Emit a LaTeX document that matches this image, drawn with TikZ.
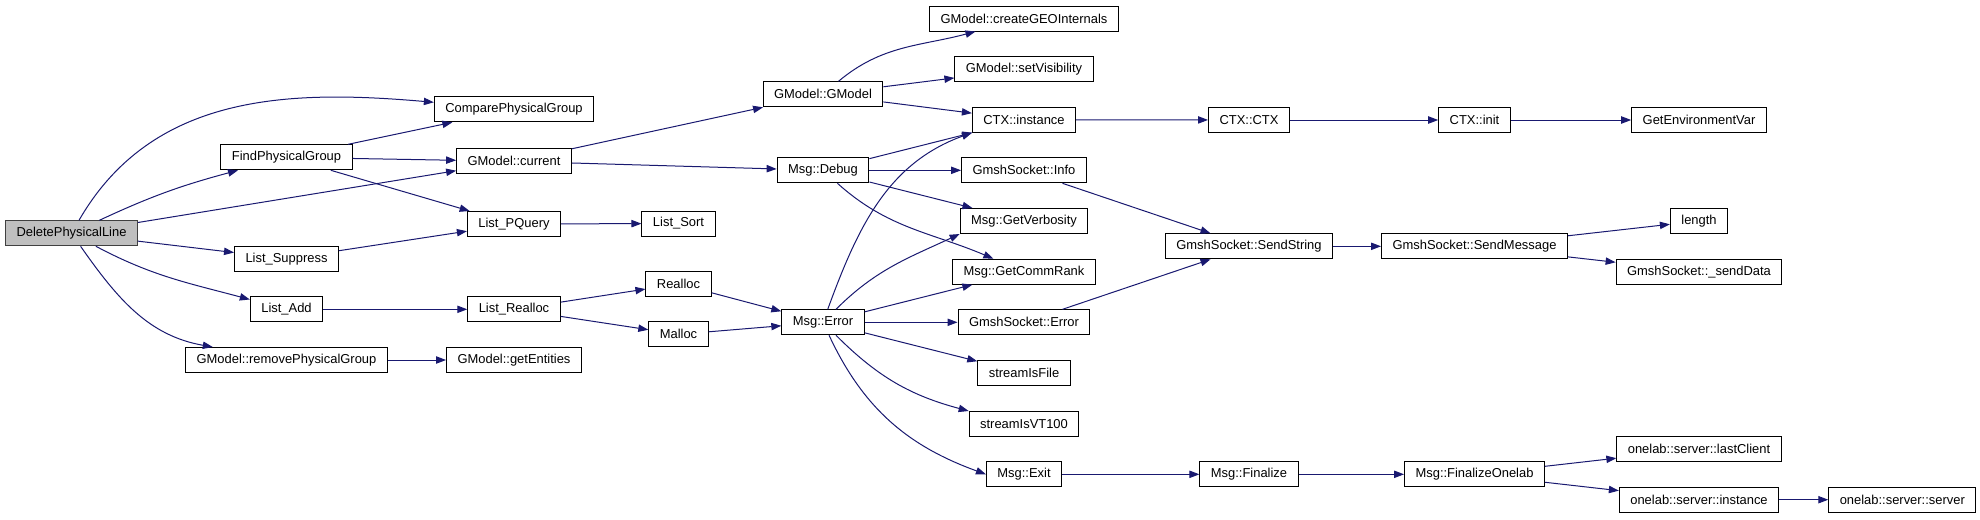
\documentclass[tikz,border=0pt]{standalone}
\usepackage{fontspec}
\setmainfont{Liberation Sans}
\usepackage{xcolor}
\usepackage{tikz}
\usetikzlibrary{arrows.meta}
\definecolor{EdgeBlue}{RGB}{25,25,112}
\definecolor{RootGray}{RGB}{191,191,191}
\definecolor{RootBorder}{RGB}{64,64,64}

\begin{document}
\begin{tikzpicture}[x=0.75pt,y=0.75pt,>={Triangle[length=7.5pt,width=5.5pt]},
  fn/.style={draw=black,line width=0.75pt,fill=white,font=\fontsize{9.7}{11}\selectfont,
    inner xsep=8.25pt,inner ysep=0pt,minimum height=18.75pt},
  rootfn/.style={fn,fill=RootGray,draw=RootBorder},
  call/.style={->,EdgeBlue,line width=0.75pt}]
  \useasboundingbox (0,0) rectangle (1980,-519);

  \node[rootfn] (Del) at (71.5,-233.3) {DeletePhysicalLine};

  \node[fn] (FindPG) at (286.5,-157.3) {FindPhysicalGroup};
  \node[fn] (Suppr) at (286.5,-258.7) {List\_Suppress};
  \node[fn] (LAdd) at (286.5,-309.3) {List\_Add};
  \node[fn] (RemPG) at (286.5,-360) {GModel::removePhysicalGroup};

  \node[fn] (ComparePG) at (514,-109.3) {ComparePhysicalGroup};
  \node[fn] (GmCur) at (514,-161.3) {GModel::current};
  \node[fn] (PQuery) at (514,-224) {List\_PQuery};
  \node[fn] (LRealloc) at (514,-309.3) {List\_Realloc};
  \node[fn] (GetEnt) at (514,-360) {GModel::getEntities};

  \node[fn] (LSort) at (678.5,-223.5) {List\_Sort};
  \node[fn] (Realloc) at (678.5,-284) {Realloc};
  \node[fn] (Malloc) at (678.5,-334.3) {Malloc};

  \node[fn] (GmGmodel) at (823,-94.3) {GModel::GModel};
  \node[fn] (Debug) at (823,-170.3) {Msg::Debug};
  \node[fn] (Error) at (823,-322.3) {Msg::Error};

  \node[fn] (CreateGeo) at (1024,-18.5) {GModel::createGEOInternals};
  \node[fn] (SetVis) at (1024,-69.3) {GModel::setVisibility};
  \node[fn] (CtxInst) at (1024,-119.7) {CTX::instance};
  \node[fn] (SockInfo) at (1024,-170.3) {GmshSocket::Info};
  \node[fn] (Verb) at (1024,-221) {Msg::GetVerbosity};
  \node[fn] (CommRank) at (1024,-271.7) {Msg::GetCommRank};
  \node[fn] (SockErr) at (1024,-322.3) {GmshSocket::Error};
  \node[fn] (IsFile) at (1024,-373) {streamIsFile};
  \node[fn] (IsVT) at (1024,-424) {streamIsVT100};
  \node[fn] (Exit) at (1024,-474.3) {Msg::Exit};

  \node[fn] (CtxCtx) at (1249,-120) {CTX::CTX};
  \node[fn] (SendStr) at (1249,-246.3) {GmshSocket::SendString};
  \node[fn] (Finalize) at (1249,-474.3) {Msg::Finalize};

  \node[fn] (CtxInit) at (1474.5,-120) {CTX::init};
  \node[fn] (SendMsg) at (1474.5,-246.3) {GmshSocket::SendMessage};
  \node[fn] (FinOnelab) at (1474.5,-474.3) {Msg::FinalizeOnelab};

  \node[fn] (GetEnv) at (1699,-120) {GetEnvironmentVar};
  \node[fn] (Len) at (1699,-221) {length};
  \node[fn] (SendData) at (1699,-271.7) {GmshSocket::\_sendData};
  \node[fn] (LastClient) at (1699,-448.8) {onelab::server::lastClient};
  \node[fn] (SrvInst) at (1699,-499.7) {onelab::server::instance};

  \node[fn] (SrvSrv) at (1902.3,-499.7) {onelab::server::server};

  \draw[call] (Del) to[out=60,in=175] (ComparePG);
  \draw[call] (Del) to[out=25,in=195] (FindPG);
  \draw[call] (Del) -- (GmCur);
  \draw[call] (Del) -- (Suppr);
  \draw[call] (Del) to[out=-28,in=165] (LAdd);
  \draw[call] (Del) to[out=-55,in=170] (RemPG);

  \draw[call] (FindPG) -- (ComparePG);
  \draw[call] (FindPG) -- (GmCur);
  \draw[call] (FindPG) -- (PQuery);
  \draw[call] (Suppr) -- (PQuery);
  \draw[call] (LAdd) -- (LRealloc);
  \draw[call] (RemPG) -- (GetEnt);

  \draw[call] (GmCur) -- (GmGmodel);
  \draw[call] (GmCur) -- (Debug);
  \draw[call] (PQuery) -- (LSort);
  \draw[call] (LRealloc) -- (Realloc);
  \draw[call] (LRealloc) -- (Malloc);
  \draw[call] (Realloc) -- (Error);
  \draw[call] (Malloc) -- (Error);

  \draw[call] (GmGmodel) to[out=40,in=195] (CreateGeo);
  \draw[call] (GmGmodel) -- (SetVis);
  \draw[call] (GmGmodel) -- (CtxInst);
  \draw[call] (Debug) -- (CtxInst);
  \draw[call] (Debug) -- (SockInfo);
  \draw[call] (Debug) -- (Verb);
  \draw[call] (Debug) to[out=-42,in=157] (CommRank);
  \draw[call] (Error) to[out=70,in=200] (CtxInst.south west);
  \draw[call] (Error) to[out=45,in=205] (Verb.south west);
  \draw[call] (Error) -- (CommRank);
  \draw[call] (Error) -- (SockErr);
  \draw[call] (Error) -- (IsFile);
  \draw[call] (Error) to[out=-45,in=165] (IsVT.north west);
  \draw[call] (Error) to[out=-65,in=160] (Exit.west);

  \draw[call] (CtxInst) -- (CtxCtx);
  \draw[call] (CtxCtx) -- (CtxInit);
  \draw[call] (CtxInit) -- (GetEnv);
  \draw[call] (SockInfo) -- (SendStr);
  \draw[call] (SockErr) -- (SendStr);
  \draw[call] (SendStr) -- (SendMsg);
  \draw[call] (SendMsg) -- (Len);
  \draw[call] (SendMsg) -- (SendData);
  \draw[call] (Exit) -- (Finalize);
  \draw[call] (Finalize) -- (FinOnelab);
  \draw[call] (FinOnelab) -- (LastClient);
  \draw[call] (FinOnelab) -- (SrvInst);
  \draw[call] (SrvInst) -- (SrvSrv);
\end{tikzpicture}
\end{document}
